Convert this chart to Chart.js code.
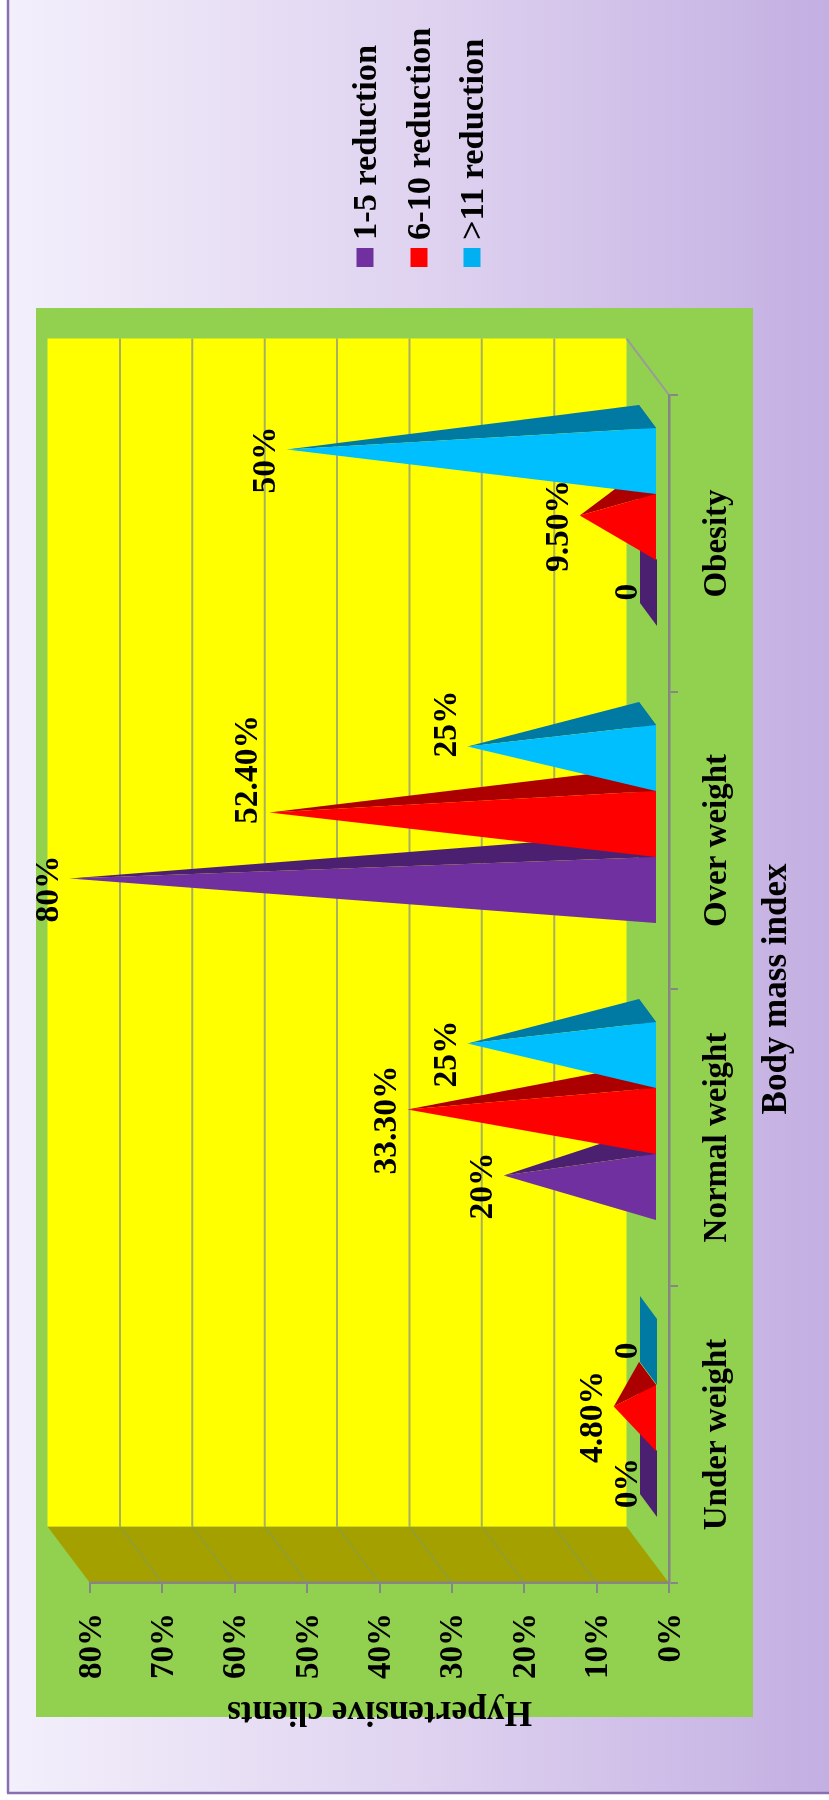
<!DOCTYPE html>
<html>
<head>
<meta charset="utf-8">
<title>Body mass index</title>
<script src="https://cdn.jsdelivr.net/npm/chart.js@4/dist/chart.umd.js"></script>
<style>
    html, body { margin: 0; padding: 0; background: #fff; }
    #sheet { position: relative; width: 829px; height: 1800px; overflow: hidden; }
    /* the whole chart is turned a quarter turn anticlockwise */
    #myChart { position: absolute; left: 0; top: 1800px; transform-origin: 0 0; transform: rotate(-90deg); }
</style>
</head>
<body>
<div id="sheet"><canvas id="myChart" width="1800" height="829"></canvas></div>
<script>
var categories = ['Under weight', 'Normal weight', 'Over weight', 'Obesity'];
var seriesNames = ['1-5 reduction', '6-10 reduction', '>11 reduction'];

var reduction1to5 = [0, 20, 80, 0];
var reduction6to10 = [4.8, 33.3, 52.4, 9.5];
var reductionOver11 = [0, 25, 25, 50];

var labels1to5 = ['0%', '20%', '80%', '0'];
var labels6to10 = ['4.80%', '33.30%', '52.40%', '9.50%'];
var labelsOver11 = ['0', '25%', '25%', '50%'];

var frontColors = ['#7030A0', '#FF0000', '#00BFFF'];
var sideColors = ['#4C2070', '#AC0000', '#007AA3'];
var legendColors = ['#7030A0', '#FF0000', '#00B0F0'];

var FONT = '"Liberation Serif", "Times New Roman", serif';

// how far the back wall sits behind the axes
var WALL_DX = 56.5;
var WALL_DY = -42.5;

// pyramid base: shift of the front edge from the axes, and of the back edge from the front
var BASE_DX = 16.5;
var BASE_DY = -12;
var BACK_DX = 23;
var BACK_DY = -17;

// two labels were dragged along the axis, keyed by category:series
var movedLabels = { '2:1': 53.5, '2:2': 33 };

function fillPolygon(ctx, points, color) {
    ctx.fillStyle = color;
    ctx.beginPath();
    ctx.moveTo(points[0][0], points[0][1]);
    for (var i = 1; i < points.length; i++) {
        ctx.lineTo(points[i][0], points[i][1]);
    }
    ctx.closePath();
    ctx.fill();
}

function drawLine(ctx, x1, y1, x2, y2, color, width) {
    ctx.strokeStyle = color;
    ctx.lineWidth = width;
    ctx.beginPath();
    ctx.moveTo(x1, y1);
    ctx.lineTo(x2, y2);
    ctx.stroke();
}

function drawBackdrop(chart) {
    var ctx = chart.ctx;
    var x = chart.scales.x;
    var y = chart.scales.y;

    var shade = ctx.createLinearGradient(0, 8, 0, 829);
    shade.addColorStop(0, '#F3EFFB');
    shade.addColorStop(0.5, '#DFD3F0');
    shade.addColorStop(1, '#C3AFE2');
    ctx.fillStyle = shade;
    ctx.fillRect(7, 8, 1793, 821);

    drawLine(ctx, 7, 8, 1800, 8, '#8A6FB0', 2.5);
    drawLine(ctx, 7, 7, 7, 829, '#8A6FB0', 2.5);

    ctx.fillStyle = '#92D050';
    ctx.fillRect(83, 36, 1409, 717);

    // side wall
    var low = y.getPixelForValue(0);
    var high = y.getPixelForValue(80);
    fillPolygon(ctx, [
        [x.left, high],
        [x.left, low],
        [x.left + WALL_DX, low + WALL_DY],
        [x.left + WALL_DX, high + WALL_DY]
    ], '#A3A000');

    // back wall
    ctx.fillStyle = '#FFFF00';
    ctx.fillRect(x.left + WALL_DX, high + WALL_DY, x.right - x.left, low - high);

    y.ticks.forEach(function (tick) {
        if (tick.value === 0 || tick.value === 80) {
            return;
        }
        var py = y.getPixelForValue(tick.value);
        drawLine(ctx, x.left, py, x.left + WALL_DX, py + WALL_DY, '#8E9E3A', 1.5);
        drawLine(ctx, x.left + WALL_DX, py + WALL_DY, x.right + WALL_DX, py + WALL_DY, '#A8B060', 2);
    });

    // floor edge running back from the end of the category axis
    drawLine(ctx, x.right, low, x.right + WALL_DX, low + WALL_DY, '#9A9A9A', 2);
}

function drawPyramid(ctx, bar, front, side) {
    var half = bar.width / 2;
    var left = bar.x - half + BASE_DX;
    var right = bar.x + half + BASE_DX;
    var near = bar.base + BASE_DY;
    var far = near + BACK_DY;
    var apex = [bar.x + BASE_DX + BACK_DX / 2, bar.y + BASE_DY + BACK_DY / 2];

    fillPolygon(ctx, [[left, near], [right, near], [right + BACK_DX, far], [left + BACK_DX, far]], side);
    // a zero value leaves only the flat base
    if (bar.y >= bar.base) {
        return;
    }
    fillPolygon(ctx, [apex, [right, near], [right + BACK_DX, far]], side);
    fillPolygon(ctx, [apex, [left, near], [right, near]], front);
}

function drawLegend(chart) {
    var ctx = chart.ctx;
    var rows = [365, 419, 472];
    ctx.font = 'bold 34.4px ' + FONT;
    ctx.textAlign = 'left';
    ctx.textBaseline = 'middle';
    chart.data.datasets.forEach(function (dataset, i) {
        ctx.fillStyle = legendColors[i];
        ctx.fillRect(1533, rows[i] - 8.5, 19, 17);
        ctx.fillStyle = '#000';
        ctx.fillText(dataset.label, 1560, rows[i] + 2.5);
    });
}

var pyramidPlugin = {
    id: 'pyramids',
    beforeDraw: function (chart) {
        drawBackdrop(chart);
    },
    // the plain bars only supply geometry, the pyramids are drawn below
    beforeDatasetDraw: function () {
        return false;
    },
    afterDatasetsDraw: function (chart) {
        var ctx = chart.ctx;
        ctx.save();
        chart.data.datasets.forEach(function (dataset, i) {
            chart.getDatasetMeta(i).data.forEach(function (bar) {
                drawPyramid(ctx, bar, frontColors[i], sideColors[i]);
            });
        });

        ctx.font = 'bold 33.5px ' + FONT;
        ctx.fillStyle = '#000';
        ctx.textAlign = 'center';
        ctx.textBaseline = 'middle';
        chart.data.datasets.forEach(function (dataset, i) {
            chart.getDatasetMeta(i).data.forEach(function (bar, j) {
                var moved = movedLabels[j + ':' + i] || 0;
                var px = bar.x + BASE_DX + BACK_DX / 2 - 10.5 + moved;
                var py = bar.y + BASE_DY + BACK_DY / 2 - 20.5;
                ctx.fillText(dataset.pointLabels[j], px, py);
            });
        });

        drawLegend(chart);
        ctx.restore();
    }
};

var ctx = document.getElementById('myChart').getContext('2d');

var myChart = new Chart(ctx, {
    type: 'bar',
    plugins: [pyramidPlugin],
    data: {
        labels: categories,
        datasets: [
            { label: seriesNames[0], data: reduction1to5, pointLabels: labels1to5, backgroundColor: frontColors[0] },
            { label: seriesNames[1], data: reduction6to10, pointLabels: labels6to10, backgroundColor: frontColors[1] },
            { label: seriesNames[2], data: reductionOver11, pointLabels: labelsOver11, backgroundColor: frontColors[2] }
        ]
    },
    options: {
        responsive: false,
        animation: false,
        devicePixelRatio: 1,
        categoryPercentage: 0.6667,
        barPercentage: 1,
        layout: { padding: { top: 90, right: 395, bottom: 0, left: 0 } },
        plugins: {
            legend: { display: false },
            tooltip: { enabled: false }
        },
        scales: {
            x: {
                afterFit: function (scale) { scale.height = 160; },
                grid: { drawOnChartArea: false, tickLength: 9, color: '#868686', lineWidth: 2 },
                border: { color: '#868686', width: 2.5 },
                ticks: {
                    color: '#000',
                    padding: 20,
                    maxRotation: 0,
                    minRotation: 0,
                    autoSkip: false,
                    font: { family: FONT, size: 33, weight: 'bold' }
                },
                title: {
                    display: true,
                    text: 'Body mass index',
                    color: '#000',
                    padding: { top: 0, bottom: 31 },
                    font: { family: FONT, size: 35, weight: 'bold' }
                }
            },
            y: {
                min: 0,
                max: 80,
                afterFit: function (scale) { scale.width = 217; },
                grid: { drawOnChartArea: false, tickLength: 10, color: '#868686', lineWidth: 2 },
                border: { color: '#868686', width: 2.5 },
                ticks: {
                    stepSize: 10,
                    color: '#000',
                    padding: 20,
                    labelOffset: 2,
                    callback: function (value) { return value + '%'; },
                    font: { family: FONT, size: 33, weight: 'bold' }
                },
                title: {
                    display: true,
                    text: 'Hypertensive clients',
                    color: '#000',
                    padding: { top: 68, bottom: 0 },
                    font: { family: FONT, size: 35.3, weight: 'bold' }
                }
            }
        }
    }
});
</script>
</body>
</html>
